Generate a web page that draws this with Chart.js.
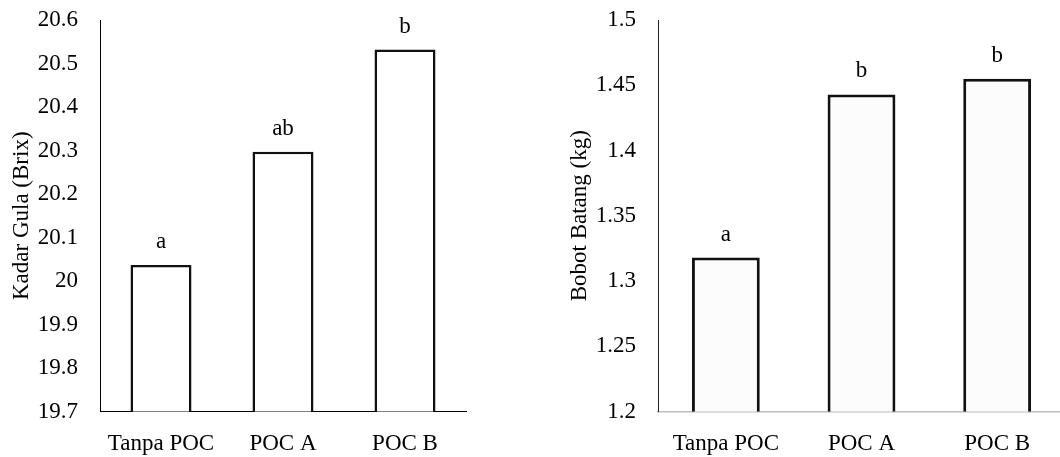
<!DOCTYPE html>
<html>
<head>
<meta charset="utf-8">
<script src="https://cdn.jsdelivr.net/npm/chart.js@4"></script>
<style>
  html, body { margin:0; padding:0; background:#fff; overflow:hidden; width:1060px; height:457px; }
  #w1 { position:absolute; left:0; top:0; width:530px; height:457px; }
  #w2 { position:absolute; left:530px; top:0; width:540px; height:457px; }
</style>
</head>
<body>
<div id="w1"><canvas id="c1" width="530" height="457"></canvas></div>
<div id="w2"><canvas id="c2" width="540" height="457"></canvas></div>
<script>
const categories = ['Tanpa POC', 'POC A', 'POC B'];
const sugarValues = [20.037, 20.297, 20.532];
const sugarLetters = ['a', 'ab', 'b'];
const sugarTicks = [19.7, 19.8, 19.9, 20.0, 20.1, 20.2, 20.3, 20.4, 20.5, 20.6];
const weightValues = [1.318, 1.443, 1.455];
const weightLetters = ['a', 'b', 'b'];
const weightTicks = [1.2, 1.25, 1.3, 1.35, 1.4, 1.45, 1.5];

const FONT = "'Liberation Serif', 'Times New Roman', serif";
const FS = 23;
Chart.defaults.font.family = FONT;
Chart.defaults.color = '#000';

const letterPlugin = {
  id: 'letters',
  afterDatasetsDraw(chart, args, opts) {
    const ctx = chart.ctx;
    const meta = chart.getDatasetMeta(0);
    ctx.save();
    ctx.font = FS + 'px ' + FONT;
    ctx.fillStyle = '#000';
    ctx.textAlign = 'center';
    ctx.textBaseline = 'alphabetic';
    meta.data.forEach((bar, i) => {
      ctx.fillText(opts.labels[i], bar.x, bar.y - 17);
    });
    ctx.restore();
  }
};

function fmt(v) { return String(parseFloat(Number(v).toFixed(2))); }

function makeChart(id, values, letters, ticks, title, cfg) {
  return new Chart(document.getElementById(id), {
    type: 'bar',
    data: {
      labels: categories,
      datasets: [{
        data: values,
        backgroundColor: cfg.fill,
        borderColor: '#111',
        borderWidth: cfg.bw,
        borderSkipped: false,
        barPercentage: 1,
        categoryPercentage: 0.5
      }]
    },
    options: {
      responsive: false,
      animation: false,
      events: [],
      layout: { padding: { left: 0, right: cfg.padRight, top: 20, bottom: 0 } },
      plugins: {
        legend: { display: false },
        tooltip: { enabled: false },
        letters: { labels: letters }
      },
      scales: {
        x: {
          grid: { display: true, color: 'rgba(0,0,0,0)', drawTicks: false },
          border: { display: true, color: cfg.xAxisColor, width: cfg.xAxisWidth },
          ticks: { font: { size: FS }, color: '#000', padding: 19, maxRotation: 0 },
          afterFit: s => { s.height = 45.5; s.paddingLeft = 0; s.paddingRight = 0; }
        },
        y: {
          min: ticks[0],
          max: ticks[ticks.length - 1],
          afterBuildTicks: s => { s.ticks = ticks.map(v => ({ value: v })); },
          grid: { display: true, color: 'rgba(0,0,0,0)', drawTicks: false },
          border: { display: true, color: cfg.yAxisColor, width: 1 },
          ticks: { font: { size: FS }, color: '#000', padding: 22, callback: v => fmt(v) },
          title: { display: true, text: title, font: { size: FS }, color: '#000', padding: { top: cfg.titlePad, bottom: 0 } },
          afterFit: s => { s.width = cfg.yWidth; s.paddingTop = 0; s.paddingBottom = 0; }
        }
      }
    },
    plugins: [letterPlugin]
  });
}

makeChart('c1', sugarValues, sugarLetters, sugarTicks, 'Kadar Gula (Brix)', {
  fill: '#ffffff', bw: 2.5, padRight: 64, yWidth: 100, titlePad: 8,
  xAxisColor: '#000', xAxisWidth: 1, yAxisColor: '#000'
});
makeChart('c2', weightValues, weightLetters, weightTicks, 'Bobot Batang (kg)', {
  fill: '#fcfcfc', bw: 3, padRight: 5, yWidth: 128, titlePad: 36,
  xAxisColor: '#bdbdbd', xAxisWidth: 1.5, yAxisColor: '#222'
});
</script>
</body>
</html>
